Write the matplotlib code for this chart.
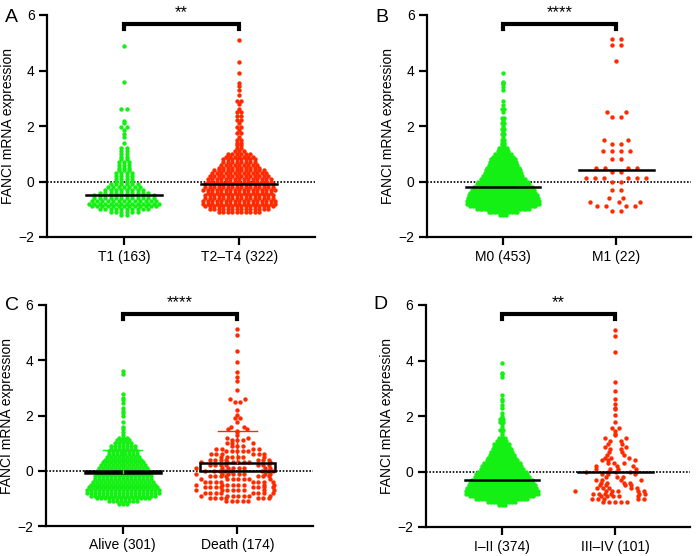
#!/usr/bin/env python3
"""
FANCI mRNA expression by clinical group (4 scatter-dot panels).
"""
import numpy as np
import matplotlib.pyplot as plt

plt.rcParams['font.family'] = ['Liberation Sans', 'DejaVu Sans']

GREEN = '#14f014'
RED = '#ff2a00'

# ---------------------------------------------------------
# Data: counts per expression level (bulk) + individual high values
# ---------------------------------------------------------
BULK_LEVELS = [-1.2, -1.1, -1.0, -0.9, -0.8, -0.7, -0.6, -0.5, -0.4, -0.3, -0.2, -0.1,
               0.0, 0.1, 0.2, 0.3, 0.4, 0.5, 0.6, 0.7, 0.8, 0.9, 1.0, 1.1, 1.2]

# A: T stage
t1_counts = [2, 6, 10, 13, 14, 13, 12, 12, 10, 8, 7, 6, 4, 4, 4, 4, 3, 3, 3, 3, 2, 2, 2, 2, 2]
t1_tail = [1.4, 1.6, 1.7, 1.85, 1.95, 1.95, 2.1, 2.18, 2.62, 2.62, 3.6, 4.88]
t24_counts = [0, 10, 14, 16, 17, 17, 16, 16, 15, 17, 16, 16, 15, 15, 14, 13, 12, 10, 9, 8, 8, 7, 6, 3, 2]
t24_tail = [1.3, 1.3, 1.4, 1.4, 1.5, 1.5, 1.6, 1.75, 1.75, 1.85, 1.95, 1.95, 2.1, 2.2, 2.2,
            2.35, 2.35, 2.5, 2.5, 2.6, 2.8, 2.9, 2.9, 3.1, 3.3, 3.45, 3.55, 3.9, 4.3, 5.1]

# B: M stage
m0_counts = [3, 12, 21, 26, 29, 29, 28, 27, 26, 25, 23, 21, 20, 18, 16, 15, 14, 13, 12, 11, 10, 9, 7, 5, 4]
m0_tail = [1.3, 1.3, 1.4, 1.4, 1.5, 1.5, 1.6, 1.7, 1.7, 1.8, 1.9, 1.9, 2.0, 2.1, 2.1, 2.2, 2.3,
           2.3, 2.5, 2.6, 2.6, 2.75, 2.9, 3.3, 3.4, 3.5, 3.55, 3.6, 3.9]
m1_values = [5.15, 5.15, 4.93, 4.93, 4.33, 2.50, 2.50, 2.32, 2.32, 1.48, 1.48, 1.36, 1.36,
             1.11, 1.11, 1.11, 1.11, 0.81, 0.81, 0.48, 0.48, 0.48, 0.48, 0.34, 0.34,
             0.12, 0.12, 0.12, 0.12, 0.12, 0.12, 0.0, 0.0, -0.29, -0.29, -0.6, -0.6,
             -0.74, -0.74, -0.74, -0.9, -0.9, -0.9, -0.9, -1.07, -1.07]

# C: survival status
alive_counts = [3, 8, 14, 17, 19, 19, 18, 17, 16, 15, 15, 14, 14, 13, 12, 11, 10, 9, 8, 8, 7, 7, 5, 4, 3]
alive_tail = [1.3, 1.4, 1.5, 1.6, 1.75, 1.98, 2.09, 2.15, 2.27, 2.45, 2.55, 2.63, 2.78, 3.5, 3.62]
death_counts = [0, 5, 7, 7, 8, 8, 8, 8, 8, 7, 7, 8, 8, 8, 7, 7, 7, 6, 6, 5, 4, 3, 3, 3, 2]
death_tail = [1.3, 1.4, 1.45, 1.5, 1.5, 1.6, 1.6, 1.75, 1.9, 1.9, 2.03, 2.21, 2.48, 2.48, 2.6,
              2.6, 2.93, 3.26, 3.38, 3.57, 3.93, 4.32, 4.9, 5.14]

# D: clinical stage
i2_counts = [3, 10, 18, 22, 25, 25, 24, 23, 22, 21, 19, 18, 17, 15, 14, 13, 11, 10, 9, 8, 7, 6, 6, 4, 3]
i2_tail = [1.3, 1.4, 1.5, 1.5, 1.6, 1.7, 1.8, 1.8, 1.9, 1.9, 2.0, 2.1, 2.3, 2.4, 2.55, 2.6,
           2.75, 3.4, 3.5, 3.55, 3.9]
i34_counts = [0, 5, 5, 5, 6, 6, 5, 4, 4, 4, 3, 3, 5, 4, 3, 3, 3, 3, 2, 2, 2, 2, 2, 2, 2]
i34_tail = [1.3, 1.35, 1.45, 1.55, 1.55, 1.8, 2.03, 2.25, 2.3, 2.45, 2.63, 2.9, 3.23, 4.29, 4.87, 5.1]

labels_a = ['T1 (163)', 'T2\u2013T4 (322)']
labels_b = ['M0 (453)', 'M1 (22)']
labels_c = ['Alive (301)', 'Death (174)']
labels_d = ['I\u2013II (374)', 'III\u2013IV (101)']


def expand(counts, tail):
    return np.concatenate([np.repeat(BULK_LEVELS, counts), tail])


# ---------------------------------------------------------
# Layout
# ---------------------------------------------------------
FIG_W, FIG_H = 696, 556
XLIM = (-0.67, 1.66)
YLIM = (-2, 6)


def swarm(vals, gap, px_y):
    """Beeswarm offsets in pixels; gap = (horizontal, vertical) collision size in px."""
    gx, gy = gap
    vals = np.sort(np.asarray(vals, dtype=float))
    ys = vals * px_y
    xs = np.zeros(len(ys))
    for i, y in enumerate(ys):
        near = np.abs(ys[:i] - y) < gy
        px, py = xs[:i][near], ys[:i][near]
        cands = [0.0]
        for xj, yj in zip(px, py):
            dx = gx * np.sqrt(1 - ((y - yj) / gy) ** 2)
            cands += [xj - dx, xj + dx]
        cands.sort(key=abs)
        for c in cands:
            if np.all(((px - c) / gx) ** 2 + ((py - y) / gy) ** 2 >= 1 - 1e-6):
                break
        xs[i] = c
    # centre each row of equal values
    for v in np.unique(vals):
        m = vals == v
        xs[m] -= xs[m].mean()
    return vals, xs


def draw_panel(fig, rect, letter, letter_pos, groups, labels, gaps, stars, summary):
    ax = fig.add_axes(rect)
    ax.set_xlim(*XLIM)
    ax.set_ylim(*YLIM)
    px_x = rect[2] * FIG_W / (XLIM[1] - XLIM[0])
    px_y = rect[3] * FIG_H / (YLIM[1] - YLIM[0])

    ax.axhline(0, color='k', lw=1.2, ls=(0, (1, 1)), zorder=1)

    for i, (vals, color, gap) in enumerate(zip(groups, [GREEN, RED], gaps)):
        ys, xoff = swarm(vals, gap, px_y)
        ax.scatter(i + xoff / px_x, ys, s=10, color=color, linewidths=0, zorder=2)
        if summary == 'median':
            med = np.median(vals)
            ax.plot([i - 0.33, i + 0.33], [med, med], color='k', lw=1.8, zorder=3)
        else:
            mean, sd = np.mean(vals), np.std(vals, ddof=1)
            ax.bar(i, mean, width=0.66, facecolor='none', edgecolor='k', lw=1.8, zorder=3)
            ax.plot([i, i], [mean, mean + sd], color=color, lw=1, zorder=3)
            ax.plot([i - 0.17, i + 0.17], [mean + sd] * 2, color=color, lw=1, zorder=3)

    # significance bracket
    ax.plot([0, 0, 1, 1], [5.5, 5.68, 5.68, 5.5], color='k', lw=3,
            solid_joinstyle='miter', clip_on=False, zorder=4)
    ax.text(0.5, 5.92, stars, ha='center', va='baseline', fontsize=12, clip_on=False)

    for s in ['top', 'right']:
        ax.spines[s].set_visible(False)
    for s in ['left', 'bottom']:
        ax.spines[s].set_linewidth(1.6)
    ax.set_xticks([0, 1])
    ax.set_xticklabels(labels)
    ax.set_yticks([-2, 0, 2, 4, 6])
    ax.tick_params(width=1.6, length=6, labelsize=10, pad=3)

    fig.text(rect[0] - 39 / FIG_W, rect[1] + rect[3] / 2, 'FANCI mRNA expression',
             rotation=90, ha='center', va='center', fontsize=10)
    fig.text(letter_pos[0], letter_pos[1], letter, fontsize=14, va='baseline', ha='left')
    return ax


def main():
    fig = plt.figure(figsize=(FIG_W / 100, FIG_H / 100), dpi=100)

    draw_panel(fig, [47 / FIG_W, 319 / FIG_H, 268 / FIG_W, 222 / FIG_H], 'A',
               (5 / FIG_W, 1 - 21.5 / FIG_H),
               [expand(t1_counts, t1_tail), expand(t24_counts, t24_tail)],
               labels_a, [(5.4, 3.0), (4.5, 3.0)], '**', 'median')
    draw_panel(fig, [427 / FIG_W, 319 / FIG_H, 264 / FIG_W, 222 / FIG_H], 'B',
               (375 / FIG_W, 1 - 21.5 / FIG_H),
               [expand(m0_counts, m0_tail), np.array(m1_values)],
               labels_b, [(2.6, 3.0), (9.0, 6.0)], '****', 'median')
    draw_panel(fig, [46 / FIG_W, 30 / FIG_H, 267 / FIG_W, 221 / FIG_H], 'C',
               (5 / FIG_W, 1 - 309.5 / FIG_H),
               [expand(alive_counts, alive_tail), expand(death_counts, death_tail)],
               labels_c, [(4.0, 3.0), (5.5, 5.5)], '****', 'mean')
    draw_panel(fig, [426 / FIG_W, 29 / FIG_H, 264 / FIG_W, 222 / FIG_H], 'D',
               (373 / FIG_W, 1 - 309 / FIG_H),
               [expand(i2_counts, i2_tail), expand(i34_counts, i34_tail)],
               labels_d, [(3.0, 3.0), (6.0, 6.0)], '**', 'median')

    fig.savefig('out.png', dpi=100)
    plt.close(fig)


if __name__ == "__main__":
    main()
